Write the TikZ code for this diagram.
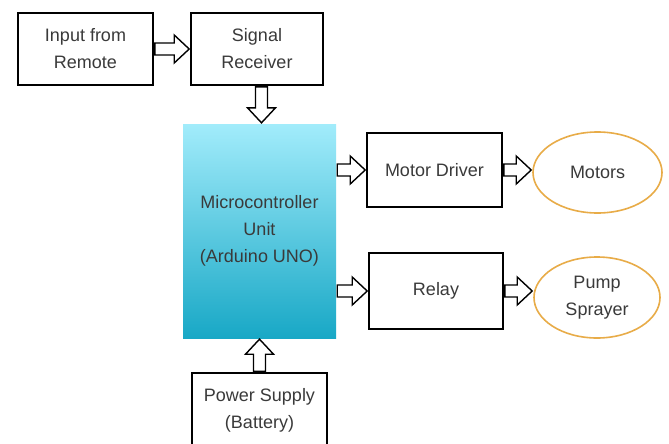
\documentclass[tikz,border=0pt]{standalone}
\usepackage{fontspec}
\setmainfont{Liberation Sans}
\usetikzlibrary{calc,shapes.geometric}
\definecolor{txt}{HTML}{3A3A3A}
\definecolor{mcutop}{RGB}{162,236,251}
\definecolor{mcubot}{RGB}{24,168,198}
\definecolor{orng}{RGB}{232,172,72}
\tikzset{
  blockbox/.style={draw=black, line width=1.6pt, fill=white, inner sep=0pt, align=center,
    font=\fontsize{18}{27}\selectfont, text=txt},
  oval/.style={ellipse, draw=orng, line width=1.6pt, fill=white, inner sep=0pt, align=center,
    font=\fontsize{18}{27}\selectfont, text=txt},
  mcubox/.style={rectangle, top color=mcutop, bottom color=mcubot, draw=none, inner sep=0pt,
    align=center, font=\fontsize{18}{27}\selectfont, text=txt},
  blockarrow/.style={draw=black, line width=1.4pt, fill=white, line join=miter}
}
\newcommand{\harrow}[2]{\draw[blockarrow] let \p1=#1, \p2=#2 in
  (\x1+1pt,\y1-6pt) -- (\x2-16pt,\y1-6pt) -- (\x2-16pt,\y1-14pt) -- (\x2-1pt,\y1)
  -- (\x2-16pt,\y1+14pt) -- (\x2-16pt,\y1+6pt) -- (\x1+1pt,\y1+6pt) -- cycle;}
\newcommand{\darrow}[2]{\draw[blockarrow] let \p1=#1, \p2=#2 in
  (\x1-6pt,\y1-1pt) -- (\x1-6pt,\y2+16pt) -- (\x1-14pt,\y2+16pt) -- (\x1,\y2+1pt)
  -- (\x1+14pt,\y2+16pt) -- (\x1+6pt,\y2+16pt) -- (\x1+6pt,\y1-1pt) -- cycle;}
\newcommand{\uarrow}[2]{\draw[blockarrow] let \p1=#1, \p2=#2 in
  (\x1-6pt,\y1+1pt) -- (\x1-6pt,\y2-16pt) -- (\x1-14pt,\y2-16pt) -- (\x1,\y2-1pt)
  -- (\x1+14pt,\y2-16pt) -- (\x1+6pt,\y2-16pt) -- (\x1+6pt,\y1+1pt) -- cycle;}
\begin{document}
\begin{tikzpicture}[x=1pt,y=-1pt]
\useasboundingbox[fill=white] (0,0) rectangle (669,444);
\begin{scope}
\clip (0,0) rectangle (669,444);
\node[blockbox, minimum width=135pt, minimum height=72pt] (inp) at (85.5,49) {Input from\\Remote};
\node[blockbox, minimum width=132pt, minimum height=72pt] (sig) at (257,49) {Signal\\Receiver};
\node[mcubox, minimum width=153pt, minimum height=214pt] (mcu) at (259.5,231) {Microcontroller\\Unit\\(Arduino UNO)};
\node[blockbox, minimum width=135pt, minimum height=74pt] (pwr) at (259.5,410) {Power Supply\\(Battery)};
\node[blockbox, minimum width=135pt, minimum height=74pt] (md) at (434.5,170) {Motor Driver};
\node[blockbox, minimum width=134pt, minimum height=76pt] (rel) at (436,291) {Relay};
\node[oval, minimum width=129pt, minimum height=81pt] (mot) at (597.5,172.5) {Motors};
\node[oval, minimum width=126pt, minimum height=81pt] (pump) at (597,297.5) {Pump\\Sprayer};
\harrow{(inp.east)}{(sig.west)}
\darrow{($(sig.south -| mcu.north)+(2,0)$)}{($(mcu.north)+(2,0)$)}
\uarrow{(pwr.north)}{(mcu.south)}
\harrow{(mcu.east |- md.west)}{(md.west)}
\harrow{(mcu.east |- rel.west)}{(rel.west)}
\harrow{(md.east)}{(md.east -| mot.west)}
\harrow{(rel.east)}{(rel.east -| pump.west)}
\end{scope}
\end{tikzpicture}
\end{document}
